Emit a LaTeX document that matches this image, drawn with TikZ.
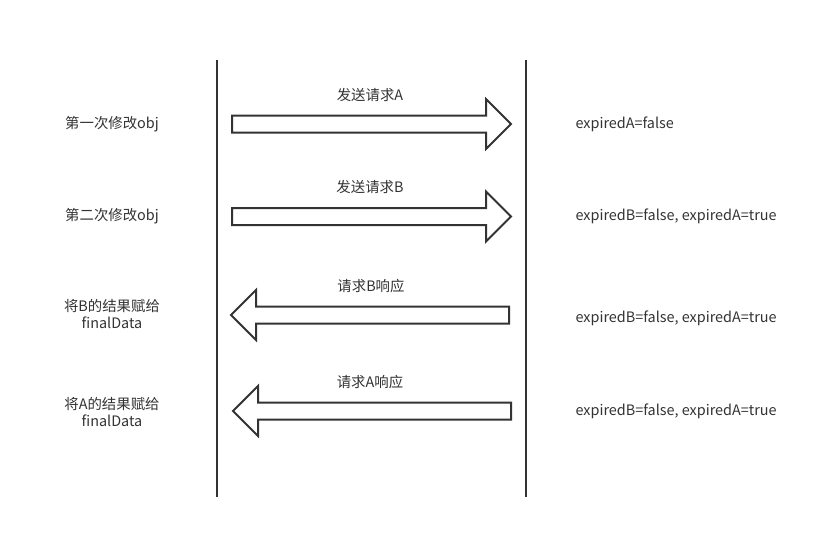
\documentclass[tikz,border=0pt]{standalone}
\usepackage{fontspec}
\setmainfont{Noto Sans CJK SC}
\usetikzlibrary{positioning}
\definecolor{inkgray}{HTML}{333333}

\tikzset{
	fatarrow/.pic={
		\draw[arrline] (0,-8.5) -- ({#1-25},-8.5) -- ({#1-25},-25) -- (#1,0)
			-- ({#1-25},25) -- ({#1-25},8.5) -- (0,8.5) -- cycle;
	},
}

\begin{document}
\begin{tikzpicture}[
		x=0.75pt, y=-0.75pt,
		font=\fontsize{10.8}{13}\selectfont, text=inkgray,
		arrline/.style={draw=inkgray, line width=1.5pt, fill=white},
		lifeline/.style={draw=inkgray, line width=1.5pt},
		action/.style={align=center, inner sep=1pt},
		state/.style={anchor=west, inner sep=1pt},
		msg/.style={inner sep=1pt},
	]
		\useasboundingbox (0,0) rectangle (826,539);

		% lifelines
		\coordinate (ltop) at (217,60);
		\coordinate (lbot) at (217,497);
		\coordinate (rtop) at (526,60);
		\coordinate (rbot) at (526,497);
		\draw[lifeline] (ltop) -- (lbot);
		\draw[lifeline] (rtop) -- (rbot);

		% requests and responses
		\pic at (232,124) {fatarrow=279};
		\pic at (232,216.5) {fatarrow=279};
		\pic[xscale=-1] at (509,315) {fatarrow=278};
		\pic[xscale=-1] at (511,411) {fatarrow=278};

		\node[msg] (reqa) at (370,95) {发送请求A};
		\node[msg] (reqb) at (370,187) {发送请求B};
		\node[msg] (resb) at (371,286) {请求B响应};
		\node[msg] (resa) at (370,382) {请求A响应};

		% left side
		\node[action] (first) at (112,124) {第一次修改obj};
		\node[action] (second) at (112,216) {第二次修改obj};
		\node[action] (setb) at (112,314) {将B的结果赋给\\finalData};
		\node[action] (seta) at (112,412) {将A的结果赋给\\finalData};

		% right side
		\node[state] (sta) at (574,124) {expiredA=false};
		\node[state] (stb) at (574,216) {expiredB=false, expiredA=true};
		\node[state] (stc) at (574,318) {expiredB=false, expiredA=true};
		\node[state] (std) at (574,411) {expiredB=false, expiredA=true};
	\end{tikzpicture}
\end{document}
